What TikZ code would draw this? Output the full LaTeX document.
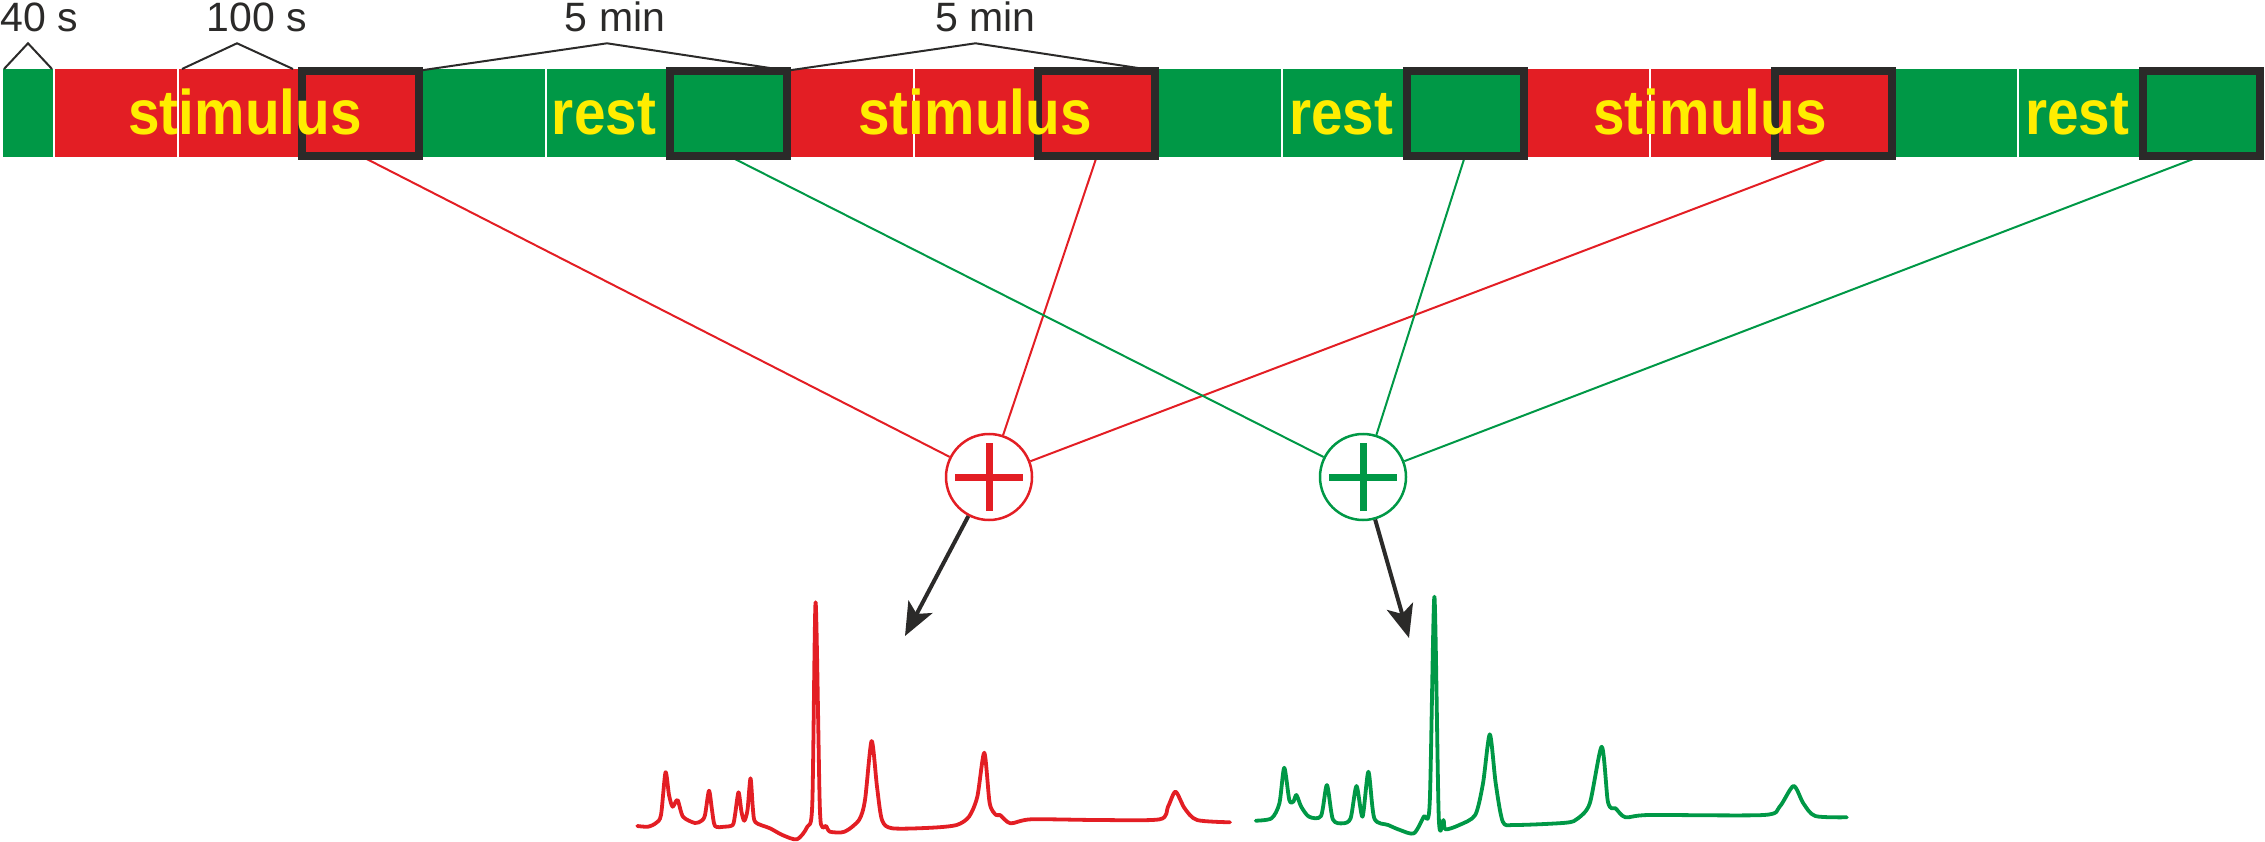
\documentclass[tikz,border=0pt]{standalone}
\usepackage{fontspec}
\setmainfont{Liberation Sans}
\newfontfamily\labfont[FakeStretch=0.9]{Liberation Sans}
\usetikzlibrary{arrows.meta}
\definecolor{cred}{HTML}{E31E24}
\definecolor{cgreen}{HTML}{009846}
\definecolor{cyel}{HTML}{FFED00}
\definecolor{cdark}{HTML}{2B2A29}
\pgfdeclarelayer{bg}
\pgfsetlayers{bg,main}
\begin{document}
\begin{tikzpicture}[x=1pt,y=-1pt,
  hold/.style={draw=cdark,line width=8pt,minimum width=117pt,minimum height=85.3pt,inner sep=0pt,outer sep=0pt},
  sumnode/.style={circle,fill=white,line width=2.5pt,minimum size=86pt,inner sep=0pt},
  toplab/.style={anchor=base,text=cdark,inner sep=0pt,font=\fontsize{41}{44}\selectfont},
  barlab/.style={anchor=base,text=cyel,inner sep=0pt,font=\labfont\fontsize{63}{66}\selectfont\bfseries},
  brk/.style={draw=cdark,line width=2pt,line join=miter},
  conn/.style={line width=2pt},
  plusbar/.style={line width=7pt},
  bigarrow/.style={draw=cdark,line width=4pt,-{Stealth[length=33pt,width=27pt,inset=8pt]}},
  trace/.style={line width=3.8pt,line join=round,line cap=round}]
\useasboundingbox (0,0) rectangle (2265,842);

% holding boxes
\foreach \i in {1,...,6}{
  \node[hold] (box\i) at ({55+(3*\i-1)*122.7+61.35-1},113.3) {};
}

% summing circles
\node[sumnode,draw=cred] (redsum) at (989,477) {};
\node[sumnode,draw=cgreen] (greensum) at (1363,477) {};
\draw[plusbar,cred] ([xshift=-34pt]redsum.center) -- ([xshift=34pt]redsum.center);
\draw[plusbar,cred] ([yshift=-34pt]redsum.center) -- ([yshift=34pt]redsum.center);
\draw[plusbar,cgreen] ([xshift=-34pt]greensum.center) -- ([xshift=34pt]greensum.center);
\draw[plusbar,cgreen] ([yshift=-34pt]greensum.center) -- ([yshift=34pt]greensum.center);

% labels
\node[toplab] (l40) at (39.5,31.5) {40 s};
\node[toplab] (l100) at (257,31.5) {100 s};
\node[toplab] (l5a) at (615,31.5) {5 min};
\node[toplab] (l5b) at (985.5,31.5) {5 min};
\node[barlab] (s1) at (245,135) {stimulus};
\node[barlab] (s2) at (975,135) {stimulus};
\node[barlab] (s3) at (1710,135) {stimulus};
\node[barlab] (r1) at (604,135) {rest};
\node[barlab] (r2) at (1341,135) {rest};
\node[barlab] (r3) at (2077,135) {rest};

% arrows
\coordinate (redtip) at (905,636);
\coordinate (greentip) at (1409,638);
\draw[bigarrow] (redsum) -- (redtip);
\draw[bigarrow] (greensum) -- (greentip);

% traces
\draw[trace,cred] plot[smooth,tension=0.45] coordinates {
(637.3,826) (648,826.7) (656,823) (661,815) (665.5,772.3) (669,795) (672.6,806.7) (677.5,800) (683,816.7) (695,823) (701.6,820.7) (705,815) (709,790.7) (712,810) (715,826) (724.4,826.7) (732.7,825) (735,815) (738.5,792.3) (741.5,812) (744.3,820.7) (747.5,810) (750.5,778.3) (753,810) (755.5,822.3) (770,828.3) (782.4,835) (797,839.3) (807.3,826.7) (812.3,803.3) (815.6,602.3) (819.7,803) (822.2,826.7) (826,826) (830,831.7) (844.6,831.7) (859,820) (865,800) (871.6,741) (877,786.7) (882,820) (892.3,828.3) (931.7,827.7) (956.6,825) (969,816.7) (977.3,796.7) (984.3,752.7) (989.7,803.3) (996,815) (1000,815) (1010.4,823.3) (1031.2,819.3) (1097.5,820) (1159.7,819.3) (1168,806.7) (1175.5,791.7) (1184.6,808.3) (1197,820) (1230,822.3)};
\draw[trace,cgreen] plot[smooth,tension=0.45] coordinates {
(1255.7,820.7) (1271.5,818.3) (1279.4,803.3) (1284.2,767.7) (1289.3,800) (1293.3,801.7) (1296.4,795) (1301.2,806.7) (1309,816.7) (1321,816) (1326.9,785) (1332.8,819.3) (1342.7,823.3) (1350.6,818.3) (1356.5,786) (1362.5,816.7) (1368.4,771.7) (1374.3,818.3) (1388.2,825) (1400,830) (1413.9,833.3) (1423.7,816.7) (1429.7,803.3) (1434.4,596.7) (1438.8,818.3) (1443.5,820) (1445.5,829.3) (1459.3,825) (1475.2,815) (1483,783.3) (1489.8,734.3) (1495.7,783.3) (1502.8,821.7) (1514.7,825) (1566.1,822.7) (1578,818.3) (1589.8,803.3) (1601.7,746.7) (1607.6,800) (1611.6,808.3) (1615.5,808.3) (1625.4,817.3) (1649.1,815) (1763.8,815) (1779.6,806.7) (1793.5,786) (1803.3,803.3) (1815.2,816) (1846.8,817.3)};

\begin{pgfonlayer}{bg}
  % bar
  \fill[cgreen] (3,69.3) rectangle (53,157.3);
  \foreach \b/\c in {0/cred,1/cgreen,2/cred,3/cgreen,4/cred,5/cgreen}{
    \fill[\c] ({55+3*\b*122.7},69.3) rectangle ({55+(3*\b+3)*122.7},157.3);
  }
  \foreach \k in {1,2,4,5,7,8,10,11,13,14,16,17}{
    \draw[white,line width=2pt] ({55+\k*122.7},69.3) -- ({55+\k*122.7},157.3);
  }
  % brackets
  \draw[brk] (4,69) -- (28,43.3) -- (52,69);
  \draw[brk] (182,69) -- (237,43.3) -- (293,69);
  \draw[brk] (box1.north east) -- (607,43.3) -- (box2.north east);
  \draw[brk] (box2.north east) -- (975.5,43.3) -- (box3.north east);
  % connectors
  \draw[conn,cred] (box1.south) -- (redsum);
  \draw[conn,cred] (box3.south) -- (redsum);
  \draw[conn,cred] (box5.south) -- (redsum);
  \draw[conn,cgreen] (box2.south) -- (greensum);
  \draw[conn,cgreen] (box4.south) -- (greensum);
  \draw[conn,cgreen] (box6.south) -- (greensum);
\end{pgfonlayer}
\end{tikzpicture}
\end{document}
